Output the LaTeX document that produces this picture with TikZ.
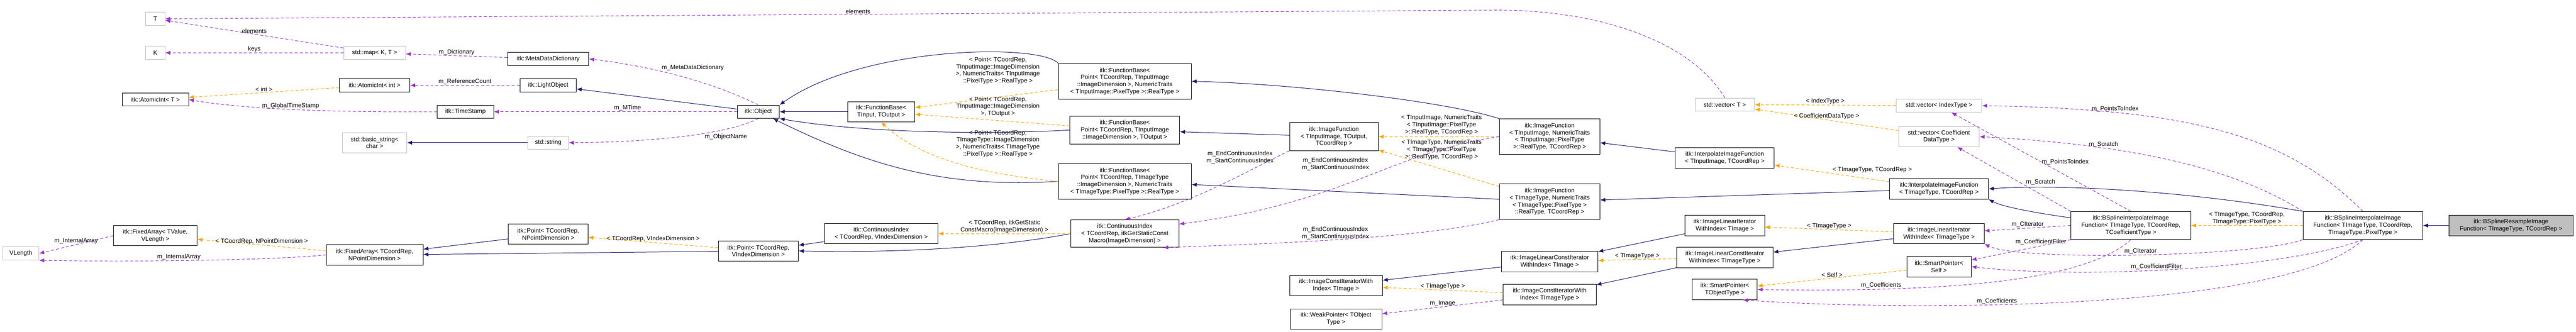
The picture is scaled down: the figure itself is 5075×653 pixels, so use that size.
\documentclass[tikz,border=0pt]{standalone}
\usepackage{fontspec}
\setmainfont{Liberation Sans}
\usetikzlibrary{arrows.meta}

\definecolor{inhcol}{HTML}{191970}
\definecolor{tplcol}{HTML}{FFA500}
\definecolor{usecol}{HTML}{9A32CD}

\tikzset{
  cls/.style={draw=black, fill=white, line width=0.9pt, align=center, inner sep=3pt, font=\fontsize{12}{14}\selectfont},
  ext/.style={cls, draw=black!25},
  cur/.style={cls, fill=black!25},
  lbl/.style={align=center, inner sep=1pt, font=\fontsize{12}{14}\selectfont},
  inh/.style={draw=inhcol, line width=1pt, -{Latex[length=10pt,width=8pt]}},
  tpl/.style={draw=tplcol, line width=1pt, dash pattern=on 6pt off 4pt, -{Latex[length=10pt,width=8pt]}},
  use/.style={draw=usecol, line width=1pt, dash pattern=on 6pt off 4pt, -{Latex[length=10pt,width=8pt]}},
}

\begin{document}
\begin{tikzpicture}[x=1pt,y=-1pt]
  \useasboundingbox (0,0) rectangle (5075,653);

  % left column
  \node[ext, minimum width=38, minimum height=26] (T) at (306,37) {T};
  \node[ext, minimum width=38, minimum height=26] (K) at (306,104) {K};
  \node[cls, minimum width=131, minimum height=26] (atomT) at (306,196) {itk::AtomicInt< T >};
  \node[cls, minimum width=165, minimum height=40] (fixV) at (306,464) {itk::FixedArray< TValue,\\VLength >};
  \node[ext, minimum width=71, minimum height=26] (vlen) at (41,499) {VLength};

  \node[ext, minimum width=122, minimum height=26] (map) at (738,104) {std::map< K, T >};
  \node[cls, minimum width=139, minimum height=26] (atomI) at (738,168) {itk::AtomicInt< int >};
  \node[ext, minimum width=127, minimum height=40] (bstr) at (738,281) {std::basic\_string<\\char >};
  \node[cls, minimum width=191, minimum height=40] (fixP) at (738,502) {itk::FixedArray< TCoordRep,\\NPointDimension >};

  \node[cls, minimum width=111, minimum height=26] (tstamp) at (917,220) {itk::TimeStamp};
  \node[cls, minimum width=160, minimum height=26] (dict) at (1080,116) {itk::MetaDataDictionary};
  \node[cls, minimum width=111, minimum height=26] (light) at (1080,168) {itk::LightObject};
  \node[ext, minimum width=80, minimum height=26] (str) at (1080,281) {std::string};
  \node[cls, minimum width=157, minimum height=40] (ptN) at (1080,461) {itk::Point< TCoordRep,\\NPointDimension >};

  \node[cls, minimum width=83, minimum height=26] (obj) at (1494,220) {itk::Object};
  \node[cls, minimum width=158, minimum height=40] (ptV) at (1494,494) {itk::Point< TCoordRep,\\VIndexDimension >};

  \node[cls, minimum width=132, minimum height=40] (fbase) at (1736,220) {itk::FunctionBase<\\TInput, TOutput >};
  \node[cls, minimum width=224, minimum height=40] (ciV) at (1736,460) {itk::ContinuousIndex\\< TCoordRep, VIndexDimension >};

  \node[cls, minimum width=262, minimum height=70] (fb1) at (2216,160) {itk::FunctionBase<\\Point< TCoordRep, TInputImage\\::ImageDimension >, NumericTraits\\< TInputImage::PixelType >::RealType >};
  \node[cls, minimum width=216, minimum height=55] (fb2) at (2216,256) {itk::FunctionBase<\\Point< TCoordRep, TInputImage\\::ImageDimension >, TOutput >};
  \node[cls, minimum width=262, minimum height=70] (fb3) at (2216,357) {itk::FunctionBase<\\Point< TCoordRep, TImageType\\::ImageDimension >, NumericTraits\\< TImageType::PixelType >::RealType >};
  \node[cls, minimum width=213, minimum height=54] (ciI) at (2216,460) {itk::ContinuousIndex\\< TCoordRep, itkGetStaticConst\\Macro(ImageDimension) >};

  \node[cls, minimum width=175, minimum height=55] (ifG) at (2628,269) {itk::ImageFunction\\< TInputImage, TOutput,\\TCoordRep >};
  \node[cls, minimum width=183, minimum height=40] (iciT) at (2632,562) {itk::ImageConstIteratorWith\\Index< TImage >};
  \node[cls, minimum width=181, minimum height=40] (weak) at (2632,628) {itk::WeakPointer< TObject\\Type >};

  \node[cls, minimum width=198, minimum height=70] (ifI) at (3053,269) {itk::ImageFunction\\< TInputImage, NumericTraits\\< TInputImage::PixelType\\>::RealType, TCoordRep >};
  \node[cls, minimum width=198, minimum height=70] (ifT) at (3053,397) {itk::ImageFunction\\< TImageType, NumericTraits\\< TImageType::PixelType >\\::RealType, TCoordRep >};
  \node[cls, minimum width=190, minimum height=40] (ilciT) at (3053,515) {itk::ImageLinearConstIterator\\WithIndex< TImage >};
  \node[cls, minimum width=183, minimum height=40] (iciI) at (3053,580) {itk::ImageConstIteratorWith\\Index< TImageType >};

  \node[ext, minimum width=117, minimum height=26] (vecT) at (3398,206) {std::vector< T >};
  \node[cls, minimum width=195, minimum height=40] (ipI) at (3398,311) {itk::InterpolateImageFunction\\< TInputImage, TCoordRep >};
  \node[cls, minimum width=157, minimum height=40] (iliT) at (3398,444) {itk::ImageLinearIterator\\WithIndex< TImage >};
  \node[cls, minimum width=190, minimum height=40] (ilciI) at (3398,507) {itk::ImageLinearConstIterator\\WithIndex< TImageType >};
  \node[cls, minimum width=128, minimum height=40] (spT) at (3398,570) {itk::SmartPointer<\\TObjectType >};

  \node[ext, minimum width=169, minimum height=26] (vecIdx) at (3820,208) {std::vector< IndexType >};
  \node[ext, minimum width=159, minimum height=40] (vecCoef) at (3820,269) {std::vector< Coefficient\\DataType >};
  \node[cls, minimum width=195, minimum height=40] (ipT) at (3820,372) {itk::InterpolateImageFunction\\< TImageType, TCoordRep >};
  \node[cls, minimum width=178, minimum height=40] (iliI) at (3820,460) {itk::ImageLinearIterator\\WithIndex< TImageType >};
  \node[cls, minimum width=127, minimum height=40] (spS) at (3820,525) {itk::SmartPointer<\\Self >};

  \node[cls, minimum width=236, minimum height=55] (bsT) at (4198,444) {itk::BSplineInterpolateImage\\Function< TImageType, TCoordRep,\\TCoefficientType >};
  \node[cls, minimum width=236, minimum height=55] (bsP) at (4655,444) {itk::BSplineInterpolateImage\\Function< TImageType, TCoordRep,\\TImageType::PixelType >};
  \node[cur, minimum width=244, minimum height=40] (rs) at (4947,444) {itk::BSplineResampleImage\\Function< TImageType, TCoordRep >};

  \coordinate (cTop) at (2950,20);

  % inheritance
  \draw[inh] (str) -- (bstr);
  \draw[inh] (obj) -- (light);
  \draw[inh] (fbase) -- (obj);
  \draw[inh] (fb1.north west) .. controls (2050,85) and (1700,90) .. (obj.north east);
  \draw[inh] (fb2.west) .. controls (1950,265) and (1700,262) .. (obj.south east);
  \draw[inh] (fb3.west) .. controls (1850,372) and (1700,320) .. (obj.335);
  \draw[inh] (ifI.north west) .. controls (2850,200) and (2550,165) .. (fb1.east);
  \draw[inh] (ifG) -- (fb2);
  \draw[inh] (ifT) -- (fb3);
  \draw[inh] (ipI) -- (ifI);
  \draw[inh] (ipT) -- (ifT);
  \draw[inh] (ciV) -- (ptV);
  \draw[inh] (ciI.west) .. controls (1950,490) and (1750,498) .. (ptV.east);
  \draw[inh] (ptN) -- (fixP);
  \draw[inh] (ptV) -- (fixP);
  \draw[inh] (ilciT) -- (iciT);
  \draw[inh] (ilciI) -- (iciI);
  \draw[inh] (iliT) -- (ilciT);
  \draw[inh] (iliI) -- (ilciI);
  \draw[inh] (bsT) .. controls (4050,425) and (3950,410) .. (ipT.south east);
  \draw[inh] (bsP.north west) .. controls (4300,375) and (4050,362) .. (ipT.east);
  \draw[inh] (rs) -- (bsP);

  % template instances
  \draw[tpl] (atomI) -- node[lbl, pos=0.5, above] {< int >} (atomT);
  \draw[tpl] (fixP) -- node[lbl, pos=0.5, above] {< TCoordRep, NPointDimension >} (fixV);
  \draw[tpl] (ptV) -- node[lbl, pos=0.5, above] {< TCoordRep, VIndexDimension >} (ptN);
  \draw[tpl] (fb1) -- (fbase);
  \node[lbl] (lFb1) at (1966,139) {< Point< TCoordRep,\\TInputImage::ImageDimension\\>, NumericTraits< TInputImage\\::PixelType >::RealType >};
  \draw[tpl] (fb2) -- (fbase);
  \node[lbl] (lFb2) at (1966,210) {< Point< TCoordRep,\\TInputImage::ImageDimension\\>, TOutput >};
  \draw[tpl] (fb3.west) .. controls (1900,340) and (1800,300) .. (fbase.south);
  \node[lbl] (lFb3) at (1966,283) {< Point< TCoordRep,\\TImageType::ImageDimension\\>, NumericTraits< TImageType\\::PixelType >::RealType >};
  \draw[tpl] (ciI) -- node[lbl, pos=0.5, above] {< TCoordRep, itkGetStatic\\ConstMacro(ImageDimension) >} (ciV);
  \draw[tpl] (ifI) -- (ifG);
  \node[lbl] (lIfI) at (2840,246) {< TInputImage, NumericTraits\\< TInputImage::PixelType\\>::RealType, TCoordRep >};
  \draw[tpl] (ifT) -- (ifG);
  \node[lbl] (lIfT) at (2840,295) {< TImageType, NumericTraits\\< TImageType::PixelType\\>::RealType, TCoordRep >};
  \draw[tpl] (ipT) -- node[lbl, pos=0.5, above right] {< TImageType, TCoordRep >} (ipI);
  \draw[tpl] (iciI) -- node[lbl, pos=0.5, above] {< TImageType >} (iciT);
  \draw[tpl] (ilciI) -- node[lbl, pos=0.5, above] {< TImageType >} (ilciT);
  \draw[tpl] (iliI) -- node[lbl, pos=0.5, above] {< TImageType >} (iliT);
  \draw[tpl] (spS) -- node[lbl, pos=0.5, above] {< Self >} (spT);
  \draw[tpl] (vecIdx) -- node[lbl, pos=0.5, above] {< IndexType >} (vecT);
  \draw[tpl] (vecCoef) -- node[lbl, pos=0.5, above] {< CoefficientDataType >} (vecT);
  \draw[tpl] (bsP) -- node[lbl, pos=0.5, above] {< TImageType, TCoordRep,\\TImageType::PixelType >} (bsT);

  % usage
  \draw[use] (vecT.north) .. controls (3330,80) and (3150,20) .. (cTop) -- node[lbl, pos=0.48, above] {elements} (T.east);
  \draw[use] (map) -- node[lbl, pos=0.5, above] {elements} (T);
  \draw[use] (map) -- node[lbl, pos=0.5, above] {keys} (K);
  \draw[use] (dict) -- node[lbl, pos=0.5, above] {m\_Dictionary} (map);
  \draw[use] (light) -- node[lbl, pos=0.5, above] {m\_ReferenceCount} (atomI);
  \draw[use] (tstamp.west) .. controls (600,222) and (450,210) .. node[lbl, pos=0.45, above] {m\_GlobalTimeStamp} (atomT.east);
  \draw[use] (obj.north) .. controls (1400,160) and (1280,130) .. node[lbl, pos=0.6, above right] {m\_MetaDataDictionary} (dict.east);
  \draw[use] (obj) -- node[lbl, pos=0.45, above] {m\_MTime} (tstamp);
  \draw[use] (obj.south) .. controls (1420,270) and (1250,280) .. node[lbl, pos=0.35, below right] {m\_ObjectName} (str.east);
  \draw[use] (fixV.west) -- node[lbl, pos=0.5, above] {m\_InternalArray} (vlen.east);
  \draw[use] (fixP.west) .. controls (500,515) and (200,515) .. node[lbl, pos=0.5, above] {m\_InternalArray} (vlen.south east);
  \draw[use] (ifG.south west) .. controls (2450,340) and (2350,400) .. (ciI.north);
  \node[lbl] (lCi1) at (2443,310) {m\_EndContinuousIndex\\m\_StartContinuousIndex};
  \draw[use] (ifI.west) .. controls (2740,300) and (2650,400) .. (ciI.10);
  \node[lbl] (lCi2) at (2631,323) {m\_EndContinuousIndex\\m\_StartContinuousIndex};
  \draw[use] (ifT.south west) .. controls (2800,470) and (2500,480) .. (ciI.340);
  \node[lbl] (lCi3) at (2631,459) {m\_EndContinuousIndex\\m\_StartContinuousIndex};
  \draw[use] (iciI) -- node[lbl, pos=0.5, above] {m\_Image} (weak);

  \draw[use] (bsT.north) -- node[lbl, pos=0.5, right] {m\_PointsToIndex} (vecIdx);
  \draw[use] (bsT.north west) -- node[lbl, pos=0.4, above right] {m\_Scratch} (vecCoef);
  \draw[use] (bsT.west) -- node[lbl, pos=0.5, above] {m\_CIterator} (iliI);
  \draw[use] (bsT.south west) -- node[lbl, pos=0.3, above] {m\_CoefficientFilter} (spS);
  \draw[use] (bsT.south) .. controls (4100,560) and (3800,575) .. node[lbl, pos=0.75, above] {m\_Coefficients} (spT.east);

  \draw[use] (bsP.north) .. controls (4500,260) and (4300,215) .. node[lbl, pos=0.75, above] {m\_PointsToIndex} (vecIdx.east);
  \draw[use] (bsP.north west) .. controls (4400,330) and (4200,285) .. node[lbl, pos=0.7, above] {m\_Scratch} (vecCoef.east);
  \draw[use] (bsP.south west) .. controls (4450,505) and (3980,515) .. node[lbl, pos=0.5, above] {m\_CIterator} (iliI.south east);
  \draw[use] (bsP.south) .. controls (4500,530) and (4100,550) .. node[lbl, pos=0.55, above] {m\_CoefficientFilter} (spS.east);
  \draw[use] (bsP.south) .. controls (4500,620) and (3700,610) .. node[lbl, pos=0.6, above] {m\_Coefficients} (spT.330);
\end{tikzpicture}
\end{document}
